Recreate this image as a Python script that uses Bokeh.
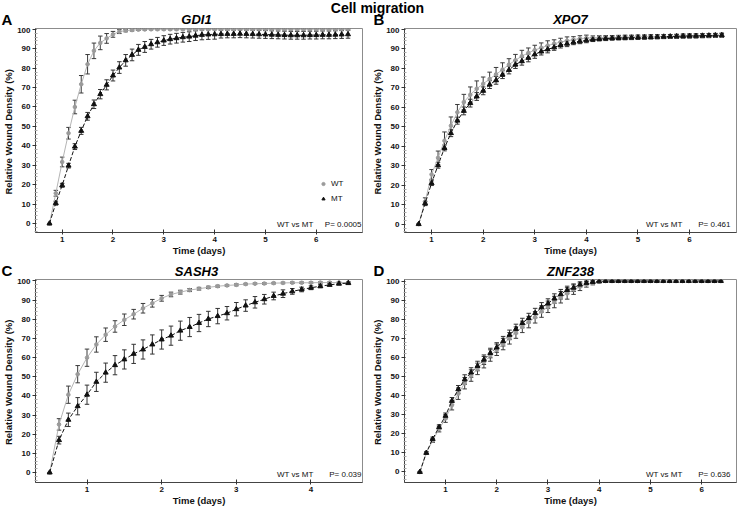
from bokeh.plotting import figure
from bokeh.models import (Range1d, Label, Legend, LegendItem, Whisker, TeeHead,
                          ColumnDataSource, FixedTicker)
from bokeh.layouts import column, row
from bokeh.embed import file_html
from bokeh.resources import INLINE

FONT = "Liberation Sans"

# ---------------- data ----------------
chart_title = "Cell migration"
panel_letters = ["A", "B", "C", "D"]
genes = ["GDI1", "XPO7", "SASH3", "ZNF238"]
p_values = ["P= 0.0005", "P= 0.461", "P= 0.039", "P= 0.636"]
comparison = "WT vs MT"
series_names = ["WT", "MT"]
x_label = "Time (days)"
y_label = "Relative Wound Density  (%)"
x_ticks_long = [1, 2, 3, 4, 5, 6]
x_ticks_short = [1, 2, 3, 4]
y_ticks = [0, 10, 20, 30, 40, 50, 60, 70, 80, 90, 100]

time_a = [0.75, 0.875, 1.0, 1.125, 1.25, 1.375, 1.5, 1.625, 1.75, 1.875, 2.0, 2.125,
          2.25, 2.375, 2.5, 2.625, 2.75, 2.875, 3.0, 3.125, 3.25, 3.375, 3.5, 3.625,
          3.75, 3.875, 4.0, 4.125, 4.25, 4.375, 4.5, 4.625, 4.75, 4.875, 5.0, 5.125,
          5.25, 5.375, 5.5, 5.625, 5.75, 5.875, 6.0, 6.125, 6.25, 6.375, 6.5, 6.625]
wt_a = [0, 15.6, 31.7, 46.5, 60, 71.7, 82, 88.9, 93, 95.3, 97.4, 98.8, 99.3, 99.6, 99.8, 99.9,
        100, 100, 100, 100, 100, 100, 100, 100, 100, 100, 100, 100, 100, 100, 100, 100,
        100, 100, 100, 100, 100, 100, 100, 100, 100, 100, 100, 100, 100, 100, 100, 100]
wt_a_err = [0, 1.5, 2.5, 3, 3.5, 4.5, 5, 4, 3.5, 2.5, 1.5, 1, 0.6, 0.5, 0.4, 0.3,
            0.3, 0.3, 0.3, 0.3, 0.3, 0.3, 0.3, 0.3, 0.3, 0.3, 0.3, 0.3, 0.3, 0.3, 0.3, 0.3,
            0.3, 0.3, 0.3, 0.3, 0.3, 0.3, 0.3, 0.3, 0.3, 0.3, 0.3, 0.3, 0.3, 0.3, 0.3, 0.3]
mt_a = [0, 10.5, 19.7, 29.8, 39.6, 47.7, 55.2, 61.4, 66.6, 71.4, 76.2, 80.3, 84, 86.8, 89.4,
        90.9, 92.3, 93.3, 94.2, 94.9, 95.4, 95.9, 96.2, 96.7, 97.1, 97.3, 97.4,
        97.5, 97.6, 97.6, 97.7, 97.6, 97.5, 97.4, 97.3, 97.2, 97.1, 97.0, 96.9, 96.9, 96.9,
        97.0, 97.0, 97.1, 97.1, 97.2, 97.3, 97.4]
mt_a_err = [0, 1, 1, 1.2, 1.5, 1.8, 2, 2.2, 2.4, 2.6, 2.8, 3, 3, 3, 2.8, 2.8, 2.5, 2.5, 2.5,
            2.5, 2.5, 2.5, 2.5, 2.5, 2.5, 2.5, 2.5, 2, 2, 2, 2, 2, 2, 2, 2, 2, 2, 2, 2, 2, 2,
            2, 2, 2, 2, 2, 2, 2]

time_b = time_a
wt_b = [0, 11.5, 25.5, 34, 42.8, 50.5, 57.4, 62.6, 66.4, 69.5, 72, 74.5, 76.9, 79.3, 81.9,
        84.1, 86.2, 87.9, 89.3, 90.5, 91.6, 92.6, 93.4, 94.1, 94.7, 95.2, 95.5,
        95.6, 95.7, 95.8, 95.8, 95.9, 96.0, 96.0, 96.1, 96.1, 96.2, 96.2, 96.3, 96.3, 96.4,
        96.5, 96.5, 96.6, 96.7, 96.7, 96.8, 96.9]
wt_b_err = [0, 2, 2.5, 3.5, 4.5, 4.5, 4, 4, 4, 4, 3.5, 3.5, 3.5, 3.5, 3, 3, 3, 2.5, 2.5,
            2.5, 2.5, 2, 2, 2, 1.5, 1.5, 1.5, 1, 1, 1, 1, 1, 1, 1, 1, 1, 1, 1, 1, 1, 1,
            1, 1, 1, 1, 1, 1, 1]
mt_b = [0, 10.7, 21, 30.2, 39.1, 46.7, 53.1, 58.1, 62.1, 65.5, 68.4, 71.6, 73.8, 76.7, 79.1,
        81.9, 83.6, 85.3, 87.1, 88.6, 89.7, 90.7, 91.9, 92.6, 93.3, 93.8, 94.3,
        94.7, 95.0, 95.2, 95.4, 95.5, 95.6, 95.7, 95.8, 95.9, 96.0, 96.1, 96.2, 96.3, 96.4,
        96.5, 96.6, 96.6, 96.7, 96.8, 96.9, 97.0]
mt_b_err = [0, 1, 1.2, 1.5, 1.5, 1.8, 1.8, 2, 2, 2, 2, 2, 2, 2, 2, 2, 2, 2, 2, 1.8, 1.8,
            1.5, 1.5, 1.5, 1.2, 1.2, 1.2, 1, 1, 1, 1, 1, 1, 1, 1, 1, 1, 1, 1, 1, 1,
            1, 1, 1, 1, 1, 1, 1]

time_c = [0.5, 0.625, 0.75, 0.875, 1.0, 1.125, 1.25, 1.375, 1.5, 1.625, 1.75, 1.875, 2.0,
          2.125, 2.25, 2.375, 2.5, 2.625, 2.75, 2.875, 3.0, 3.125, 3.25, 3.375, 3.5, 3.625,
          3.75, 3.875, 4.0, 4.125, 4.25, 4.375, 4.5]
wt_c = [0, 25.1, 40.6, 51.3, 59.9, 66.8, 71.9, 76.2, 79.7, 82.6, 85.7, 88.3, 90.9, 92.9,
        94.1, 95.2, 95.9, 96.6, 97.2, 97.6, 97.9, 98.3, 98.5, 98.6, 98.8, 98.9, 99.0, 99.0,
        99.0, 99.1, 99.1, 99.1, 99.1]
wt_c_err = [0, 3, 4.5, 4.5, 4.5, 4, 3.5, 3, 3, 2.5, 2.5, 2, 1.5, 1.2, 1, 0.8, 0.7, 0.6,
            0.5, 0.5, 0.5, 0.4, 0.4, 0.4, 0.4, 0.4, 0.4, 0.4, 0.4, 0.4, 0.4, 0.4, 0.4]
mt_c = [0, 16.9, 27.5, 34.6, 40.6, 47.3, 52.1, 56, 59, 61.9, 64.2, 66.8, 69.4, 71.4, 74,
        75.9, 78, 80.1, 81.6, 83.1, 85.2, 87.1, 88.8, 90.4, 92.1, 93.3, 94.5, 95.5, 96.4,
        97.2, 97.9, 98.5, 98.8]
mt_c_err = [0, 2, 3.5, 4.5, 5, 5, 5, 5, 5, 5, 5, 5, 5, 5, 5, 5, 4.5, 4, 4, 3.5, 3.5, 3, 3,
            2.5, 2, 2, 1.5, 1.2, 1, 0.8, 0.6, 0.5, 0.5]

time_d = [0.5, 0.625, 0.75, 0.875, 1.0, 1.125, 1.25, 1.375, 1.5, 1.625, 1.75, 1.875, 2.0,
          2.125, 2.25, 2.375, 2.5, 2.625, 2.75, 2.875, 3.0, 3.125, 3.25, 3.375, 3.5, 3.625,
          3.75, 3.875, 4.0, 4.125, 4.25, 4.375, 4.5, 4.625, 4.75, 4.875, 5.0, 5.125, 5.25,
          5.375, 5.5, 5.625, 5.75, 5.875, 6.0, 6.125, 6.25, 6.375]
wt_d = [0, 10, 16.5, 22.5, 28, 35, 41, 46.5, 50.5, 54, 57.5, 61, 64, 67, 70, 73, 76, 78.5,
        81, 84, 86.5, 89, 91.5, 93.5, 95.5, 97, 98.3, 99, 99.6,
        100, 100, 100, 100, 100, 100, 100, 100, 100, 100, 100, 100, 100, 100, 100, 100, 100,
        100, 100]
wt_d_err = [0, 0.7, 1, 1.5, 2, 2.5, 3, 3, 3, 3, 3, 3, 3, 3, 3, 3, 3, 3, 3, 3, 3, 3, 3, 3,
            2.5, 2, 1.5, 1, 0.5, 0.2, 0.2, 0.2, 0.2, 0.2, 0.2, 0.2, 0.2, 0.2, 0.2, 0.2, 0.2,
            0.2, 0.2, 0.2, 0.2, 0.2, 0.2, 0.2]
mt_d = [0, 10, 17.3, 23.5, 29.4, 37.2, 43.3, 48.4, 52.1, 55.5, 58.8, 62.3, 65.2, 68.5, 71.8,
        74.9, 78, 80.6, 83.2, 86.2, 88.2, 90.8, 93.1, 95.3, 96.5, 98.1, 99, 99.5, 99.8,
        100, 100, 100, 100, 100, 100, 100, 100, 100, 100, 100, 100, 100, 100, 100, 100, 100,
        100, 100]
mt_d_err = [0, 0.5, 1, 1.2, 1.5, 1.8, 2, 2.5, 2.5, 2.5, 2.5, 2.5, 2.5, 2.5, 2.5, 2.5, 2.5,
            2.5, 2.5, 2.5, 2.5, 2.5, 2.5, 2, 2, 1.5, 1, 0.7, 0.4, 0.2, 0.2, 0.2, 0.2, 0.2,
            0.2, 0.2, 0.2, 0.2, 0.2, 0.2, 0.2, 0.2, 0.2, 0.2, 0.2, 0.2, 0.2, 0.2]

# ---------------- layout constants (page origin = 0,0) ----------------
W_FIG = 369
FRAME_W = 332
FRAME_H = 204
BL_LEFT, BR_LEFT = 30, 7      # left column borders
BL_RIGHT, BR_RIGHT = 35, 2    # right column borders
H_ROW1, BT_ROW1, BB_ROW1 = 231, 1, 26
H_ROW2, BT_ROW2, BB_ROW2 = 230, 1, 25
HDR1_H = 27
HDR2_H = 20

WT_LINE = "#b4b4b4"
WT_MARK = "#9a9a9a"
MT_COL = "#111111"
BAR_COL = "#333333"

y_minor = [t + d for t in [-10] + y_ticks for d in (2, 4, 6, 8) if -6 < t + d < 100]


def make_panel(t, wt, wt_err, mt, mt_err, xr, yr, xticks, bl, br, h, bt, bb,
               pval="", legend=False):
    p = figure(width=W_FIG, height=h, x_range=Range1d(*xr), y_range=Range1d(*yr),
               toolbar_location=None, output_backend="svg", title=None,
               min_border_left=bl, min_border_right=br, min_border_top=bt,
               min_border_bottom=bb)
    p.xgrid.visible = False
    p.ygrid.visible = False
    p.outline_line_color = "#8c8c8c"
    p.outline_line_width = 1

    src_wt = ColumnDataSource(dict(t=t, y=wt,
                                   lo=[v - e for v, e in zip(wt, wt_err)],
                                   hi=[v + e for v, e in zip(wt, wt_err)]))
    src_mt = ColumnDataSource(dict(t=t, y=mt,
                                   lo=[v - e for v, e in zip(mt, mt_err)],
                                   hi=[v + e for v, e in zip(mt, mt_err)]))

    p.line("t", "y", source=src_wt, line_color=WT_LINE, line_width=1)
    for src, col in ((src_wt, "#3a3a3a"), (src_mt, BAR_COL)):
        p.add_layout(Whisker(base="t", upper="hi", lower="lo", source=src,
                             line_color=col, line_width=1,
                             upper_head=TeeHead(size=4.5, line_color=col, line_width=1),
                             lower_head=TeeHead(size=4.5, line_color=col, line_width=1)))
    wt_sc = p.scatter("t", "y", source=src_wt, marker="circle", size=3.6,
                      fill_color=WT_MARK, line_color=WT_MARK)
    p.line("t", "y", source=src_mt, line_color=MT_COL, line_width=1, line_dash="4 2")
    mt_sc = p.scatter("t", "y", source=src_mt, marker="triangle", size=5,
                      fill_color=MT_COL, line_color=MT_COL)

    xa = p.xaxis[0]
    ya = p.yaxis[0]
    xa.ticker = FixedTicker(ticks=xticks, minor_ticks=[])
    ya.ticker = FixedTicker(ticks=y_ticks, minor_ticks=y_minor)
    for ax in (xa, ya):
        ax.axis_line_color = "#444444"
        ax.axis_line_width = 1
        ax.major_tick_line_color = "#333333"
        ax.major_label_text_font = FONT
        ax.major_label_text_font_style = "bold"
        ax.major_label_text_font_size = "8px"
        ax.major_label_text_color = "#111111"
        ax.axis_label_text_font = FONT
        ax.axis_label_text_font_style = "bold"
        ax.axis_label_text_font_size = "9.5px"
        ax.axis_label_text_color = "#111111"
        ax.major_label_standoff = 2
        ax.axis_label_standoff = 0
    xa.major_tick_in = 3
    xa.major_tick_out = 2
    xa.minor_tick_line_color = None
    ya.major_tick_in = 1
    ya.major_tick_out = 3
    ya.minor_tick_in = 2
    ya.minor_tick_out = 1
    ya.minor_tick_line_color = "#a8a8a8"
    xa.axis_label = x_label
    ya.axis_label = y_label

    p.add_layout(Label(x=FRAME_W - 54, y=8.5, x_units="screen", y_units="screen",
                       text=comparison, text_font=FONT, text_font_size="8px",
                       text_align="right", text_baseline="alphabetic",
                       text_color="#111111"))
    p.add_layout(Label(x=FRAME_W - 6, y=8.5, x_units="screen", y_units="screen",
                       text=pval, text_font=FONT, text_font_size="8px",
                       text_align="right", text_baseline="alphabetic",
                       text_color="#111111"))

    if legend:
        lg = Legend(items=[LegendItem(label=series_names[0], renderers=[wt_sc]),
                           LegendItem(label=series_names[1], renderers=[mt_sc])],
                    location=(FRAME_W - 48, 28))
        lg.border_line_color = None
        lg.background_fill_alpha = 0
        lg.padding = 0
        lg.margin = 0
        lg.spacing = 4
        lg.glyph_width = 8
        lg.glyph_height = 11
        lg.label_height = 11
        lg.label_standoff = 4
        lg.label_text_font = FONT
        lg.label_text_font_size = "8px"
        lg.label_text_color = "#111111"
        p.add_layout(lg)
    return p


def make_strip(height, letters, gene_pair, gene_y, letter_y, title=None):
    s = figure(width=2 * W_FIG, height=height, x_range=Range1d(0, 2 * W_FIG),
               y_range=Range1d(0, height), toolbar_location=None, output_backend="svg",
               title=None, min_border=0, x_axis_location=None, y_axis_location=None)
    s.outline_line_color = None
    s.grid.visible = False
    if title is not None:
        s.add_layout(Label(x=377, y=19.5, text=title, text_font=FONT,
                           text_font_style="bold", text_font_size="14px",
                           text_align="center", text_baseline="alphabetic",
                           text_color="#000000"))
    centers = [BL_LEFT + FRAME_W / 2, W_FIG + BL_RIGHT + FRAME_W / 2]
    lefts = [1, W_FIG + 4]
    for cx, lx, g, l in zip(centers, lefts, gene_pair, letters):
        s.add_layout(Label(x=cx, y=gene_y, text=g, text_font=FONT,
                           text_font_style="bold italic", text_font_size="13px",
                           text_align="center", text_baseline="alphabetic",
                           text_color="#000000"))
        s.add_layout(Label(x=lx, y=letter_y, text=l, text_font=FONT,
                           text_font_style="bold", text_font_size="15px",
                           text_align="left", text_baseline="alphabetic",
                           text_color="#000000"))
    return s


pA = make_panel(time_a, wt_a, wt_a_err, mt_a, mt_a_err, (0.475, 6.91), (-4.6, 100.4),
                x_ticks_long, BL_LEFT, BR_LEFT, H_ROW1, BT_ROW1, BB_ROW1,
                pval=p_values[0], legend=True)
pB = make_panel(time_b, wt_b, wt_b_err, mt_b, mt_b_err, (0.475, 6.91), (-4.3, 100.4),
                x_ticks_long, BL_RIGHT, BR_RIGHT, H_ROW1, BT_ROW1, BB_ROW1,
                pval=p_values[1])
pC = make_panel(time_c, wt_c, wt_c_err, mt_c, mt_c_err, (0.31, 4.69), (-5.2, 100.7),
                x_ticks_short, BL_LEFT, BR_LEFT, H_ROW2, BT_ROW2, BB_ROW2,
                pval=p_values[2])
pD = make_panel(time_d, wt_d, wt_d_err, mt_d, mt_d_err, (0.2, 6.68), (-5.5, 100.8),
                x_ticks_long, BL_RIGHT, BR_RIGHT, H_ROW2, BT_ROW2, BB_ROW2,
                pval=p_values[3])

hdr1 = make_strip(HDR1_H, panel_letters[0:2], genes[0:2], gene_y=7.7, letter_y=8.3,
                  title=chart_title)
hdr2 = make_strip(HDR2_H, panel_letters[2:4], genes[2:4], gene_y=7.2, letter_y=8.0)

layout = column(hdr1, row(pA, pB), hdr2, row(pC, pD))
open("out.html", "w").write(file_html(layout, INLINE))
